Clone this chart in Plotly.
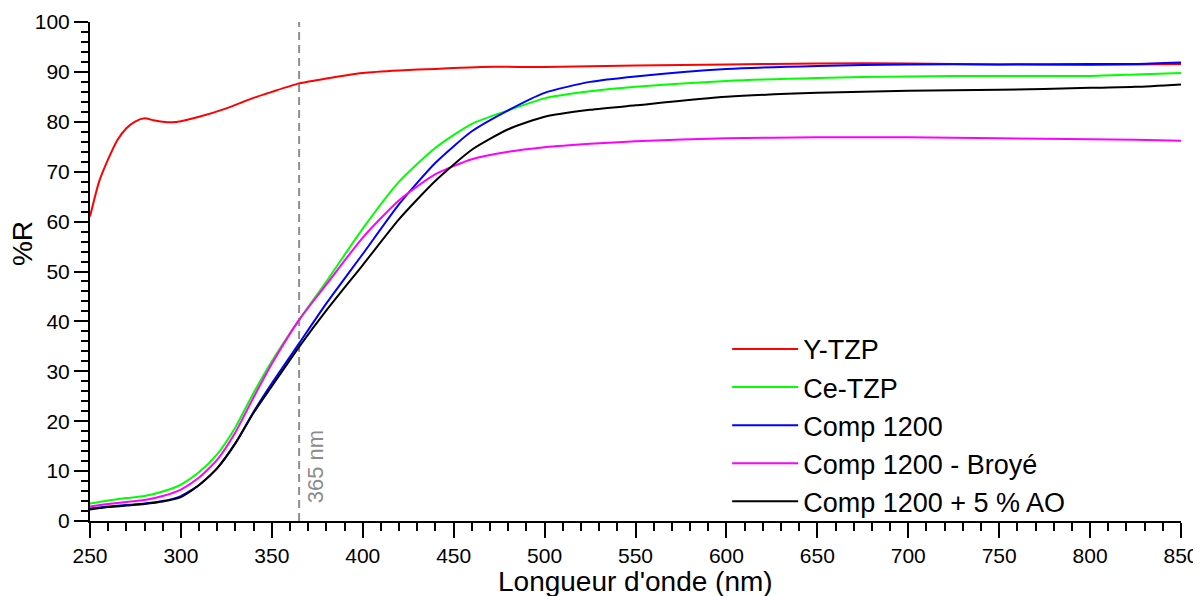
import plotly.graph_objects as go

# ---- data ----
wl_red = [250, 255, 260, 265, 270, 275, 280, 285, 290, 295, 300, 310, 325, 340, 350, 365,
          380, 400, 420, 440, 465, 500, 550, 600, 650, 700, 750, 800, 850]
r_ytzp = [61.0, 68.0, 72.5, 76.3, 78.7, 80.1, 80.7, 80.3, 80.0, 79.9, 80.1, 81.0, 82.7, 84.8,
          86.0, 87.7, 88.7, 89.8, 90.3, 90.6, 91.0, 91.0, 91.3, 91.5, 91.7, 91.7, 91.5, 91.4, 91.6]

wl = [250, 260, 270, 280, 290, 300, 310, 320, 330, 340, 350, 365, 380, 400, 420, 440, 460,
      480, 500, 525, 550, 600, 650, 700, 750, 800, 825, 850]
r_cetzp = [3.5, 4.1, 4.6, 5.0, 5.9, 7.3, 9.8, 13.4, 18.8, 25.7, 32.0, 40.3, 48.0, 58.6, 68.0,
           74.8, 79.6, 82.3, 84.7, 86.1, 87.0, 88.2, 88.8, 89.1, 89.2, 89.2, 89.5, 89.8]
r_comp = [2.5, 2.9, 3.2, 3.5, 4.0, 5.0, 7.2, 10.6, 15.6, 21.9, 27.6, 35.6, 43.6, 53.5, 63.5,
          71.8, 78.1, 82.3, 85.8, 88.0, 89.1, 90.6, 91.2, 91.5, 91.5, 91.6, 91.6, 91.9]
r_broye = [2.9, 3.4, 3.8, 4.2, 5.0, 6.3, 8.7, 12.3, 17.8, 24.8, 31.5, 40.3, 47.4, 56.8, 64.3,
           69.5, 72.5, 74.0, 74.9, 75.6, 76.1, 76.7, 76.9, 76.9, 76.7, 76.5, 76.4, 76.2]
r_ao = [2.3, 2.8, 3.1, 3.4, 3.9, 4.8, 7.2, 10.6, 15.6, 21.7, 27.0, 34.9, 42.2, 51.3, 60.5,
        68.2, 74.4, 78.5, 81.0, 82.4, 83.3, 85.0, 85.8, 86.2, 86.4, 86.8, 87.0, 87.5]

names = ["Y-TZP", "Ce-TZP", "Comp 1200", "Comp 1200 - Broyé", "Comp 1200 + 5 % AO"]
colors = ["#ff0000", "#00ff00", "#0000ff", "#ff00ff", "#000000"]

marker_nm = 365
x_ticks = [250, 300, 350, 400, 450, 500, 550, 600, 650, 700, 750, 800, 850]
y_ticks = [0, 10, 20, 30, 40, 50, 60, 70, 80, 90, 100]

FONT = "Liberation Sans, Arial, sans-serif"

fig = go.Figure()
series = [(wl_red, r_ytzp), (wl, r_cetzp), (wl, r_comp), (wl, r_broye), (wl, r_ao)]
for (xs, ys), name, col in zip(series, names, colors):
    fig.add_trace(go.Scatter(x=xs, y=ys, mode="lines", name=name,
                             line=dict(color=col, width=2, shape="spline", smoothing=0.6)))

axis_common = dict(showline=True, linecolor="black", linewidth=2, showgrid=False,
                   zeroline=False, tickcolor="black", tickwidth=2, automargin=False)

# page body has an 8px default margin, so the figure is 8px smaller than the window
fig.update_layout(
    width=1193, height=588,
    margin=dict(l=82, r=20, t=14, b=75),
    paper_bgcolor="white", plot_bgcolor="white",
    font=dict(family=FONT, color="black"),
    showlegend=True,
    legend=dict(x=0.584, y=0.393, xanchor="left", yanchor="top",
                font=dict(size=27, family=FONT, color="black"),
                itemwidth=66, bgcolor="rgba(0,0,0,0)", tracegroupgap=0),
    xaxis=dict(range=[250, 850], tickvals=x_ticks, ticks="outside", ticklen=15,
               tickfont=dict(size=21, family=FONT),
               minor=dict(dtick=10, ticks="outside", ticklen=8, tickcolor="black", tickwidth=2),
               **axis_common),
    yaxis=dict(range=[0, 100], tickvals=y_ticks, ticks="outside", ticklen=14,
               tickfont=dict(size=21, family=FONT),
               minor=dict(dtick=2, ticks="outside", ticklen=7, tickcolor="black", tickwidth=2),
               **axis_common),
    xaxis2=dict(range=[250, 850], overlaying="x", side="top", anchor="y",
                tickvals=x_ticks, ticks="inside", ticklen=15, showticklabels=False,
                minor=dict(dtick=10, ticks="inside", ticklen=8, tickcolor="black", tickwidth=2),
                **axis_common),
    yaxis2=dict(range=[0, 100], overlaying="y", side="right", anchor="x",
                tickvals=y_ticks, ticks="inside", ticklen=14, showticklabels=False,
                minor=dict(dtick=2, ticks="inside", ticklen=7, tickcolor="black", tickwidth=2),
                **axis_common),
)

fig.add_shape(type="line", xref="x", yref="y", x0=marker_nm, x1=marker_nm, y0=0, y1=100,
              line=dict(color="#8f8f8f", width=2, dash="8px,5px"), layer="below")

fig.add_annotation(x=marker_nm, y=10.8, xref="x", yref="y", text=f"{marker_nm} nm",
                   textangle=-90, showarrow=False, xshift=16,
                   font=dict(size=22, family=FONT, color="#8c8c8c"))

fig.add_annotation(x=0.5, y=-0.122, xref="paper", yref="paper", text="Longueur d'onde (nm)",
                   showarrow=False, yanchor="middle",
                   font=dict(size=28, family=FONT, color="black"))
fig.add_annotation(x=-0.0623, y=0.555, xref="paper", yref="paper", text="%R",
                   textangle=-90, showarrow=False, xanchor="center", yanchor="middle",
                   font=dict(size=28, family=FONT, color="black"))

fig.write_html("out.html")
